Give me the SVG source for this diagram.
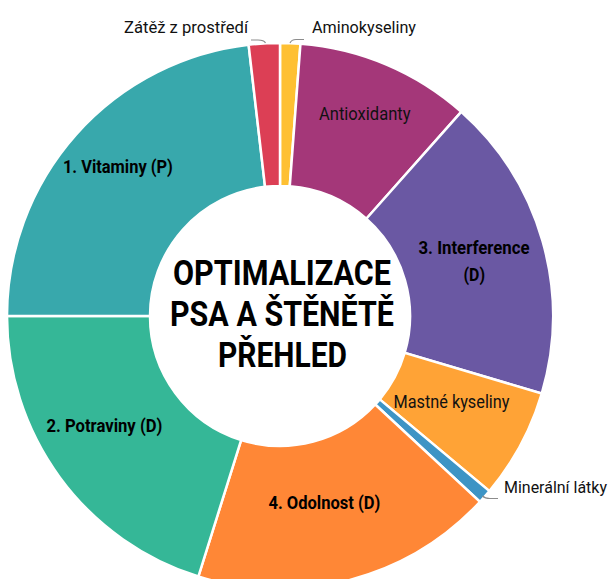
<svg xmlns="http://www.w3.org/2000/svg" width="613" height="579" viewBox="0 0 613 579">
<style>
.slice{stroke:#fff;stroke-width:2.5;stroke-linejoin:miter}
.lbl{font-family:Roboto,"Liberation Sans",sans-serif;fill:#111;font-size:17px}
.in{font-size:18.5px}
.b{font-family:Roboto,"Liberation Sans",sans-serif;fill:#000;font-weight:bold;font-size:18px;text-anchor:middle}
.title{font-family:Roboto,"Liberation Sans",sans-serif;fill:#000;font-weight:bold;font-size:34.5px;text-anchor:middle}
.leader{fill:none;stroke:#8c8c8c;stroke-width:1.2}
</style>
<rect width="613" height="579" fill="#fff"/>
<g id="aminokyseliny">
<path class="slice" fill="#FEC033" d="M280,43 A273,273 0 0 1 300.47,43.77 L289.75,186.37 A130,130 0 0 0 280,186 Z"/>
<text class="lbl" x="312" y="33" textLength="104" lengthAdjust="spacingAndGlyphs">Aminokyseliny</text>
</g>
<g id="antioxidanty">
<path class="slice" fill="#A43779" d="M300.47,43.77 A273,273 0 0 1 461.25,111.85 L366.31,218.79 A130,130 0 0 0 289.75,186.37 Z"/>
<text class="lbl in" x="319" y="119.5" textLength="91.5" lengthAdjust="spacingAndGlyphs">Antioxidanty</text>
</g>
<g id="interference">
<path class="slice" fill="#6A58A3" d="M461.25,111.85 A273,273 0 0 1 541.76,393.54 L404.65,352.92 A130,130 0 0 0 366.31,218.79 Z"/>
<text class="b" x="474" y="254" textLength="111" lengthAdjust="spacingAndGlyphs">3. Interference</text>
<text class="b" x="474.3" y="281" textLength="21.5" lengthAdjust="spacingAndGlyphs">(D)</text>
</g>
<g id="mastne-kyseliny">
<path class="slice" fill="#FFA336" d="M541.76,393.54 A273,273 0 0 1 489.44,491.12 L379.73,399.39 A130,130 0 0 0 404.65,352.92 Z"/>
<text class="lbl in" x="393.5" y="408" textLength="116" lengthAdjust="spacingAndGlyphs">Mastné kyseliny</text>
</g>
<g id="mineralni-latky">
<path class="slice" fill="#3D94C5" d="M489.44,491.12 A273,273 0 0 1 479.98,501.84 L375.23,404.49 A130,130 0 0 0 379.73,399.39 Z"/>
<text class="lbl" x="504" y="493" textLength="103" lengthAdjust="spacingAndGlyphs">Minerální látky</text>
</g>
<g id="odolnost">
<path class="slice" fill="#FF8736" d="M479.98,501.84 A273,273 0 0 1 198.36,576.51 L241.12,440.05 A130,130 0 0 0 375.23,404.49 Z"/>
<text class="b" x="324.4" y="509" textLength="112" lengthAdjust="spacingAndGlyphs">4. Odolnost (D)</text>
</g>
<g id="potraviny">
<path class="slice" fill="#35B797" d="M198.36,576.51 A273,273 0 0 1 7,316 L150,316 A130,130 0 0 0 241.12,440.05 Z"/>
<text class="b" x="104.4" y="432" textLength="116" lengthAdjust="spacingAndGlyphs">2. Potraviny (D)</text>
</g>
<g id="vitaminy">
<path class="slice" fill="#38A8AC" d="M7,316 A273,273 0 0 1 248.62,44.81 L265.06,186.86 A130,130 0 0 0 150,316 Z"/>
<text class="b" x="117.9" y="172.5" textLength="110" lengthAdjust="spacingAndGlyphs">1. Vitaminy (P)</text>
</g>
<g id="zatez-z-prostredi">
<path class="slice" fill="#DC3F55" d="M248.62,44.81 A273,273 0 0 1 280,43 L280,186 A130,130 0 0 0 265.06,186.86 Z"/>
<text class="lbl" x="248" y="33" text-anchor="end" textLength="124" lengthAdjust="spacingAndGlyphs">Zátěž z prostředí</text>
</g>
<g id="center-title">
<text class="title" x="282" y="285" textLength="218" lengthAdjust="spacingAndGlyphs">OPTIMALIZACE</text>
<text class="title" x="282" y="325.5" textLength="224" lengthAdjust="spacingAndGlyphs">PSA A ŠTĚNĚTĚ</text>
<text class="title" x="282.5" y="366.5" textLength="129" lengthAdjust="spacingAndGlyphs">PŘEHLED</text>
</g>
<g id="connectors">
<path class="leader" d="M251,40 L258,40 Q264,40 265.5,43"/>
<path class="leader" d="M290,43 Q291.5,39.5 296,39.5 L304,39.5"/>
<path class="leader" d="M482.5,496 Q485,498.5 490,498.5 L498,498.5"/>
</g>
</svg>
